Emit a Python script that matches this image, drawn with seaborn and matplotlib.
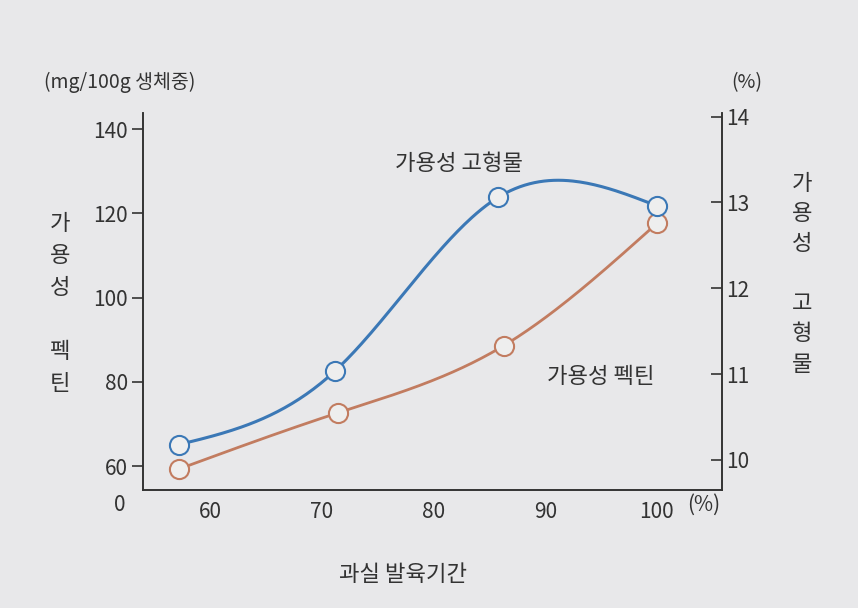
import numpy as np
import matplotlib
matplotlib.use("Agg")
import matplotlib.pyplot as plt
import seaborn as sns

# data
period = [57.2, 71.2, 85.8, 100.0]          # 과실 발육기간 (%)
solids = [10.18, 11.04, 13.06, 12.96]       # 가용성 고형물 (%) - right axis
period_p = [57.2, 71.4, 86.3, 100.0]
pectin = [59.3, 72.6, 88.6, 117.6]          # 가용성 펙틴 (mg/100g) - left axis
left_ticks = [60, 80, 100, 120, 140]
right_ticks = [10, 11, 12, 13, 14]
x_ticks = [60, 70, 80, 90, 100]


def natural_spline(x, y, n=200):
    # natural cubic spline just for drawing a smooth line through the points
    x = np.asarray(x, float); y = np.asarray(y, float)
    k = len(x); h = np.diff(x)
    A = np.zeros((k, k)); b = np.zeros(k)
    A[0, 0] = A[-1, -1] = 1
    for i in range(1, k - 1):
        A[i, i - 1] = h[i - 1]; A[i, i] = 2 * (h[i - 1] + h[i]); A[i, i + 1] = h[i]
        b[i] = 6 * ((y[i + 1] - y[i]) / h[i] - (y[i] - y[i - 1]) / h[i - 1])
    M = np.linalg.solve(A, b)
    xs = np.linspace(x[0], x[-1], n); ys = np.empty_like(xs)
    for j, t in enumerate(xs):
        i = min(np.searchsorted(x, t) - 1, k - 2); i = max(i, 0)
        a, c = x[i + 1] - t, t - x[i]
        ys[j] = (M[i] * a**3 + M[i + 1] * c**3) / (6 * h[i]) + \
                (y[i] / h[i] - M[i] * h[i] / 6) * a + (y[i + 1] / h[i] - M[i + 1] * h[i] / 6) * c
    return xs, ys


sns.set_theme(style="white")
plt.rcParams['font.family'] = ['Noto Sans CJK KR', 'DejaVu Sans']
bg = "#e8e8ea"
blue = "#3b78b6"
brown = "#c27c60"

fig = plt.figure(figsize=(8.58, 6.08), dpi=100, facecolor=bg)
ax = fig.add_axes([0.167, 0.194, 0.674, 0.62], facecolor=bg)
ax2 = ax.twinx()

xs, ys = natural_spline(period_p, pectin)
sns.lineplot(x=xs, y=ys, ax=ax, color=brown, lw=2)
ax.scatter(period_p, pectin, s=190, facecolor="#eeeeee", edgecolor=brown, lw=1.5, zorder=5)

xs, ys = natural_spline(period, solids)
sns.lineplot(x=xs, y=ys, ax=ax2, color=blue, lw=2.2)
ax2.scatter(period, solids, s=190, facecolor="#eeeeee", edgecolor=blue, lw=1.5, zorder=5)

ax.set_xlim(54, 105.8)
ax.set_ylim(54.3, 143.8)
ax2.set_ylim(9.65, 14.04)
ax.set_xticks(x_ticks)
ax.set_xticklabels([str(v) for v in x_ticks], fontsize=15, color="#333")
ax.set_yticks(left_ticks)
ax.set_yticklabels([str(v) for v in left_ticks], fontsize=15, color="#333")
ax2.set_yticks(right_ticks)
ax2.set_yticklabels([str(v) for v in right_ticks], fontsize=15, color="#333")
for a in (ax, ax2):
    a.spines['top'].set_visible(False)
    for s in a.spines.values():
        s.set_color("#333"); s.set_linewidth(1.2)
    a.tick_params(length=8, width=1.2, color="#333")
ax.tick_params(axis='y', direction='out', pad=3)
ax2.tick_params(axis='y', direction='in')
ax.tick_params(axis='x', length=0, pad=8)

fig.text(0.14, 0.855, "(mg/100g 생체중)", fontsize=14, color="#333", ha="center")
fig.text(0.87, 0.855, "(%)", fontsize=14, color="#333", ha="center")
fig.text(0.14, 0.16, "0", fontsize=15, color="#333", ha="center")
fig.text(0.82, 0.16, "(%)", fontsize=15, color="#333", ha="center")
fig.text(0.47, 0.045, "과실 발육기간", fontsize=16, color="#333", ha="center")
fig.text(0.07, 0.50, "가\n용\n성\n\n펙\n틴", fontsize=16, color="#333", ha="center", va="center", linespacing=1.5)
fig.text(0.935, 0.55, "가\n용\n성\n\n고\n형\n물", fontsize=16, color="#333", ha="center", va="center", linespacing=1.4)
fig.text(0.535, 0.72, "가용성 고형물", fontsize=16, color="#333", ha="center")
fig.text(0.70, 0.37, "가용성 펙틴", fontsize=16, color="#333", ha="center")

fig.savefig("out.png", dpi=100, facecolor=bg)
